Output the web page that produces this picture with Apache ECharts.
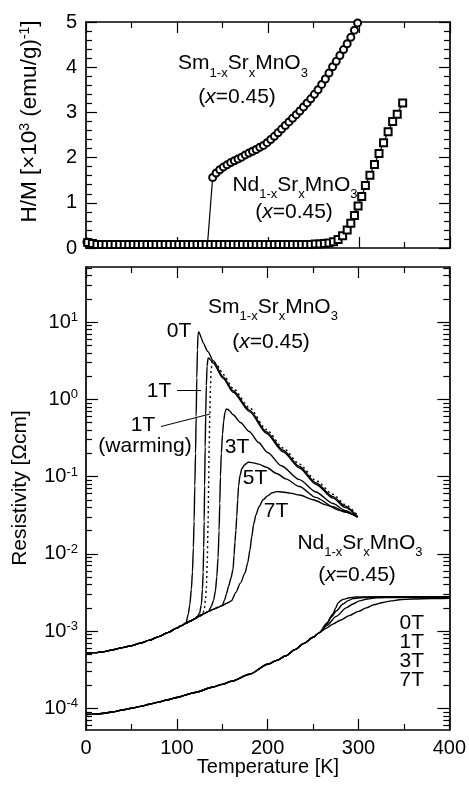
<!DOCTYPE html>
<html><head><meta charset="utf-8">
<script src="https://cdn.jsdelivr.net/npm/echarts@6.0.0/dist/echarts.min.js"></script>
<style>html,body{margin:0;padding:0;background:#fff}#c{width:469px;height:788px}</style>
</head><body><div id="c"></div>
<script>
const FONT = "'Liberation Sans', Arial, Helvetica, sans-serif";

// ---------- Top panel: H/M [x10^3 (emu/g)^-1] vs Temperature [K] ----------
const smMagT = [1,4,8,12,16,20,24,28,32,36,40,44,48,52,56,60,64,68,72,76,80,84,88,92,96,100,104,108,112,116,120,124,128,133.5,
  139.2,143,147,151,155,159,163,167,171,175,179,183,187,191,195,199,203,207,211,215,219,223,227,231,235,239,243,247,251,255,259,263,267,271,275,279,283,287,291,295,298.5];
const smMagHM = [0.13,0.10,0.08,0.08,0.08,0.08,0.08,0.08,0.08,0.08,0.08,0.08,0.08,0.08,0.08,0.08,0.08,0.08,0.08,0.08,0.08,0.08,0.08,0.08,0.08,0.08,0.08,0.08,0.08,0.08,0.08,0.08,0.08,0.08,
  1.56,1.66,1.73,1.79,1.84,1.89,1.93,1.97,2.01,2.06,2.10,2.14,2.18,2.23,2.27,2.33,2.40,2.47,2.55,2.63,2.71,2.79,2.87,2.95,3.03,3.12,3.21,3.30,3.40,3.50,3.62,3.74,3.87,4.01,4.13,4.26,4.39,4.52,4.66,4.82,4.98];
const ndMagT = [2,7,12,17,22,27,32,37,42,47,52,57,62,67,72,77,82,87,92,97,102,107,112,117,122,127,132,137,142,147,152,157,162,167,172,177,182,187,192,197,202,207,212,217,222,227,232,237,242,247,252,257,262,267,
  272,277,282,287,291,295,299,303,307,312,317,322,327,332,337,342,348];
const ndMagHM = [0.12,0.10,
  0.08,0.08,0.08,0.08,0.08,0.08,0.08,0.08,
  0.08,0.08,0.08,0.08,0.08,0.08,0.08,0.08,
  0.08,0.08,0.08,0.08,0.08,0.08,0.08,0.08,
  0.08,0.08,0.08,0.08,0.08,0.08,0.08,0.08,
  0.08,0.08,0.08,0.08,0.08,0.08,0.08,0.08,
  0.08,0.08,0.08,0.08,0.08,0.08,0.08,0.08,
  0.09,0.09,0.10,0.11,
  0.14,0.19,0.27,0.40,0.55,0.72,0.93,1.14,1.38,1.61,1.85,2.09,2.33,2.57,2.80,2.96,3.21];

// ---------- Bottom panel: log10(resistivity [Ohm cm]) vs Temperature [K] ----------
const smBaseT = [0,10,20,30,40,50,60,70,80,90,100,105,110,115,120,125,130,135,140,145,150,155,160];
const smBaseLogRho = [-3.284,-3.28,-3.266,-3.242,-3.215,-3.19,-3.157,-3.118,-3.072,-3.02,-2.962,-2.932,-2.9,-2.87,-2.84,-2.805,-2.775,-2.745,-2.72,-2.695,-2.67,-2.64,-2.61];

const sm0T_T = [112.5,114.3,116,117.2,118.2,119,119.8,120.6,121.3,122,122.7,123.4,124.3,125.5,127,129,134,140,151,162,180,198.5,217,235,253,272,285,299];
const sm0T_LogRho = [-2.79,-2.66,-2.46,-2.24,-1.92,-1.58,-1.12,-0.7,-0.22,0.28,0.64,0.85,0.87,0.84,0.79,0.73,0.62,0.5,0.29,0.11,-0.14,-0.42,-0.66,-0.87,-1.08,-1.26,-1.38,-1.52];

const sm1T_T = [122.5,125,127,128.2,129,129.6,130.1,130.6,131.2,131.8,132.5,133.3,134.4,135.5,137,140,151,162,180,198.5,217,235,253,272,285,299];
const sm1T_LogRho = [-2.81,-2.77,-2.66,-2.46,-2.24,-1.92,-1.58,-1.12,-0.62,-0.2,0.18,0.43,0.53,0.53,0.51,0.47,0.27,0.09,-0.16,-0.44,-0.68,-0.89,-1.1,-1.28,-1.4,-1.52];

const sm1TWarm_T = [125,128,130,131.5,132.6,133.5,134.4,135,135.6,136.3,137,137.8,138.8,140,145,151,162,180,198.5,217,235,253,272,285,299];
const sm1TWarm_LogRho = [-2.805,-2.78,-2.74,-2.6,-2.43,-2.1,-1.6,-1.12,-0.62,-0.2,0.15,0.38,0.48,0.5,0.43,0.32,0.14,-0.11,-0.39,-0.63,-0.84,-1.05,-1.23,-1.36,-1.5];

const sm3T_T = [138,140.5,142.5,144,145.4,146.5,147.3,148,149,150.3,151.6,153,154.3,156,158,162,170,180,190,200,215,235,253,272,285,299];
const sm3T_LogRho = [-2.68,-2.6,-2.48,-2.3,-2.05,-1.7,-1.35,-1.0,-0.7,-0.45,-0.28,-0.17,-0.13,-0.13,-0.15,-0.2,-0.3,-0.42,-0.56,-0.69,-0.86,-1.04,-1.2,-1.35,-1.44,-1.53];

const sm5T_T = [152.5,154.6,157,159.5,161.9,163,164,165,166,167,168,169.5,171.5,174.5,178.5,183,190,198.5,210,220,235,253,272,285,299];
const sm5T_LogRho = [-2.6,-2.52,-2.42,-2.32,-2.2,-2.02,-1.85,-1.7,-1.52,-1.3,-1.12,-0.99,-0.9,-0.85,-0.815,-0.82,-0.84,-0.88,-0.96,-1.03,-1.13,-1.27,-1.39,-1.46,-1.52];

const sm7T_T = [165,170,175,178,180.5,182.5,184.5,187,190.5,195,200,205,210,216,225,235,250,265,280,299];
const sm7T_LogRho = [-2.5,-2.38,-2.25,-2.12,-1.95,-1.78,-1.62,-1.5,-1.39,-1.3,-1.25,-1.21,-1.195,-1.2,-1.215,-1.24,-1.3,-1.37,-1.44,-1.52];

const ndBaseT = [0,10,20,30,40,50,60,70,80,90,100,120,140,150,160,180,200,210,220,230,240,250,257];
const ndBaseLogRho = [-4.08,-4.076,-4.065,-4.045,-4.022,-4.0,-3.975,-3.948,-3.92,-3.89,-3.86,-3.795,-3.725,-3.69,-3.65,-3.56,-3.43,-3.38,-3.32,-3.24,-3.16,-3.08,-3.02];

const nd0T_T = [265,271.8,275,277.3,280,283,290,297,320,350,400];
const nd0T_LogRho = [-2.9,-2.78,-2.7,-2.64,-2.61,-2.59,-2.57,-2.56,-2.555,-2.555,-2.555];
const nd1T_T = [265,270,275.5,283,288,294,305,320,400];
const nd1T_LogRho = [-2.91,-2.82,-2.74,-2.65,-2.61,-2.58,-2.565,-2.56,-2.56];
const nd3T_T = [265,275.5,286.5,294,301,310,320,340,400];
const nd3T_LogRho = [-2.93,-2.81,-2.7,-2.65,-2.61,-2.585,-2.57,-2.565,-2.565];
const nd7T_T = [265,271.8,280,290,300,308.5,317,327,336,345,360,381,400];
const nd7T_LogRho = [-2.96,-2.91,-2.86,-2.8,-2.745,-2.7,-2.66,-2.63,-2.61,-2.595,-2.585,-2.58,-2.575];

// ---------- Axes / ticks ----------
const tempRange = [0, 400];
const tempInterval = 100;
const hmRange = [0, 5];
const hmInterval = 1;
const logRhoRange = [-4.281, 1.712];
const rhoDecades = [-4, -3, -2, -1, 0, 1];
const minorMultipliers = [2, 3, 4, 5, 6, 7, 8, 9];
const minorDecades = [-5, -4, -3, -2, -1, 0, 1];

// ---------- Build ----------
function pairs(xs, ys) { return xs.map((x, i) => [x, ys[i]]); }
function branch(baseT, baseV, brT, brV) {
  const pts = [];
  baseT.forEach((t, i) => { if (t < brT[0]) pts.push([t, baseV[i]]); });
  brT.forEach((t, i) => pts.push([t, brV[i]]));
  return pts;
}
const minorLogTicks = [];
minorDecades.forEach(d => minorMultipliers.forEach(k => {
  const v = d + Math.log10(k);
  if (v > logRhoRange[0] && v < logRhoRange[1]) minorLogTicks.push(v);
}));

const AX_LINE = { show: true, onZero: false, lineStyle: { color: '#000', width: 1.7 } };
const TICK_STYLE = { color: '#000', width: 1.2 };

function xAx(gi, pos, labels) {
  return {
    type: 'value', gridIndex: gi, position: pos, min: tempRange[0], max: tempRange[1], interval: tempInterval,
    axisLine: AX_LINE,
    axisTick: { show: true, inside: true, length: 11, lineStyle: TICK_STYLE },
    minorTick: { show: true, splitNumber: 2, length: 6, lineStyle: TICK_STYLE },
    splitLine: { show: false }, minorSplitLine: { show: false },
    axisLabel: { show: labels, fontSize: 20, color: '#000', fontFamily: FONT, margin: 8 }
  };
}
function hmAx(pos, labels) {
  return {
    type: 'value', gridIndex: 0, position: pos, min: hmRange[0], max: hmRange[1], interval: hmInterval,
    axisLine: AX_LINE,
    axisTick: { show: true, inside: true, length: 11, lineStyle: TICK_STYLE },
    minorTick: { show: true, splitNumber: 5, length: 6, lineStyle: TICK_STYLE },
    splitLine: { show: false }, minorSplitLine: { show: false },
    axisLabel: { show: labels, fontSize: 20, color: '#000', fontFamily: FONT, margin: 9 }
  };
}
function rhoAx(pos, major, labels) {
  return {
    type: 'value', gridIndex: 1, position: pos, min: logRhoRange[0], max: logRhoRange[1],
    axisLine: major ? AX_LINE : { show: false, onZero: false },
    axisTick: { show: true, inside: true, length: major ? 12 : 6, lineStyle: TICK_STYLE,
      customValues: major ? rhoDecades : minorLogTicks },
    splitLine: { show: false },
    axisLabel: labels ? {
      show: true, customValues: rhoDecades, margin: 8,
      formatter: v => '{b|10}{s|' + Math.round(v) + '}',
      rich: {
        b: { fontSize: 20, fontFamily: FONT, color: '#000', lineHeight: 22 },
        s: { fontSize: 13, fontFamily: FONT, color: '#000', lineHeight: 13, verticalAlign: 'top' }
      }
    } : { show: false }
  };
}

const lineBase = { type: 'line', symbol: 'none', smooth: 0.25, smoothMonotone: 'x', animation: false,
  xAxisIndex: 2, yAxisIndex: 2, lineStyle: { color: '#000', width: 1.4 } };

const series = [
  { type: 'line', name: 'Sm H/M', xAxisIndex: 0, yAxisIndex: 0, data: pairs(smMagT, smMagHM),
    symbol: 'emptyCircle', symbolSize: 7, showAllSymbol: true, animation: false,
    itemStyle: { color: '#000', borderColor: '#000', borderWidth: 1 }, lineStyle: { color: '#000', width: 1.2 } },
  { type: 'line', name: 'Nd H/M', xAxisIndex: 0, yAxisIndex: 0, data: pairs(ndMagT, ndMagHM),
    symbol: 'emptyRect', symbolSize: 7, showAllSymbol: true, animation: false,
    itemStyle: { color: '#000', borderColor: '#000', borderWidth: 1 }, lineStyle: { color: '#000', width: 1.2 } },
  Object.assign({}, lineBase, { name: 'Sm 0T', data: branch(smBaseT, smBaseLogRho, sm0T_T, sm0T_LogRho) }),
  Object.assign({}, lineBase, { name: 'Sm 1T', data: branch(smBaseT, smBaseLogRho, sm1T_T, sm1T_LogRho) }),
  Object.assign({}, lineBase, { name: 'Sm 1T warming', data: pairs(sm1TWarm_T, sm1TWarm_LogRho),
    lineStyle: { color: '#000', width: 1.4, type: [2, 3] } }),
  Object.assign({}, lineBase, { name: 'Sm 3T', data: branch(smBaseT, smBaseLogRho, sm3T_T, sm3T_LogRho) }),
  Object.assign({}, lineBase, { name: 'Sm 5T', data: branch(smBaseT, smBaseLogRho, sm5T_T, sm5T_LogRho) }),
  Object.assign({}, lineBase, { name: 'Sm 7T', data: branch(smBaseT, smBaseLogRho, sm7T_T, sm7T_LogRho) }),
  Object.assign({}, lineBase, { name: 'Nd 0T', data: branch(ndBaseT, ndBaseLogRho, nd0T_T, nd0T_LogRho) }),
  Object.assign({}, lineBase, { name: 'Nd 1T', data: branch(ndBaseT, ndBaseLogRho, nd1T_T, nd1T_LogRho) }),
  Object.assign({}, lineBase, { name: 'Nd 3T', data: branch(ndBaseT, ndBaseLogRho, nd3T_T, nd3T_LogRho) }),
  Object.assign({}, lineBase, { name: 'Nd 7T', data: branch(ndBaseT, ndBaseLogRho, nd7T_T, nd7T_LogRho) })
];

const RICH = {
  m: { fontSize: 21, fontFamily: FONT, lineHeight: 32, fill: '#000' },
  i: { fontSize: 21, fontFamily: FONT, fontStyle: 'italic', lineHeight: 32, fill: '#000' },
  s: { fontSize: 13, fontFamily: FONT, lineHeight: 13, verticalAlign: 'bottom', fill: '#000' },
  t: { fontSize: 21, fontFamily: FONT, lineHeight: 23, fill: '#000' },
  h: { fontSize: 22.5, fontFamily: FONT, lineHeight: 24, fill: '#000' },
  u: { fontSize: 14, fontFamily: FONT, lineHeight: 14, verticalAlign: 'top', fill: '#000' }
};
function txt(x, y, text, align, rot) {
  return { type: 'text', x: x, y: y, rotation: rot || 0, z: 100, silent: true,
    style: { text: text, rich: RICH, fill: '#000', font: '21px ' + FONT,
      align: align || 'center', verticalAlign: 'middle' } };
}
function seg(x1, y1, x2, y2) {
  return { type: 'line', z: 100, silent: true, shape: { x1: x1, y1: y1, x2: x2, y2: y2 },
    style: { stroke: '#000', lineWidth: 1 } };
}
const SM = '{m|Sm}{s|1-x}{m|Sr}{s|x}{m|MnO}{s|3}';
const ND = '{m|Nd}{s|1-x}{m|Sr}{s|x}{m|MnO}{s|3}';
const XEQ = '{m|(}{i|x}{m|=0.45)}';

const graphic = [
  txt(243, 63.5, SM), txt(237, 97, XEQ),
  txt(295, 185, ND), txt(294, 212, XEQ),
  txt(273, 307, SM), txt(271, 342, XEQ),
  txt(179, 331.5, '{m|0T}'),
  txt(159, 391, '{m|1T}'), seg(177, 390.5, 201, 390.5),
  txt(143, 425, '{m|1T}'), seg(161, 426.5, 210, 414),
  txt(145, 446, '{m|(warming)}'),
  txt(237, 447, '{m|3T}'), txt(255, 478, '{m|5T}'), txt(276, 511, '{m|7T}'),
  txt(360, 543, ND), txt(357, 575, XEQ),
  txt(424, 623, '{m|0T}', 'right'), txt(424, 642, '{m|1T}', 'right'),
  txt(424, 661, '{m|3T}', 'right'), txt(424, 680, '{m|7T}', 'right'),
  { type: 'text', x: 268, y: 767, z: 100, silent: true,
    style: { text: 'Temperature [K]', font: '20px ' + FONT, fill: '#000', align: 'center', verticalAlign: 'middle' } },
  txt(30, 121.5, '{h|H/M [×10}{u|3}{h| (emu/g)}{u|-1}{h|]}', 'center', Math.PI / 2),
  txt(20, 488, '{t|Resistivity [Ωcm]}', 'center', Math.PI / 2)
];

const option = {
  animation: false,
  backgroundColor: '#fff',
  grid: [
    { left: 86, top: 22, width: 364, height: 226 },
    { left: 86, top: 267, width: 364, height: 463 }
  ],
  xAxis: [xAx(0, 'bottom', false), xAx(0, 'top', false), xAx(1, 'bottom', true), xAx(1, 'top', false)],
  yAxis: [hmAx('left', true), hmAx('right', false),
    rhoAx('left', true, true), rhoAx('left', false, false),
    rhoAx('right', true, false), rhoAx('right', false, false)],
  series: series,
  graphic: graphic
};
const chart = echarts.init(document.getElementById('c'));
chart.setOption(option);
</script></body></html>
